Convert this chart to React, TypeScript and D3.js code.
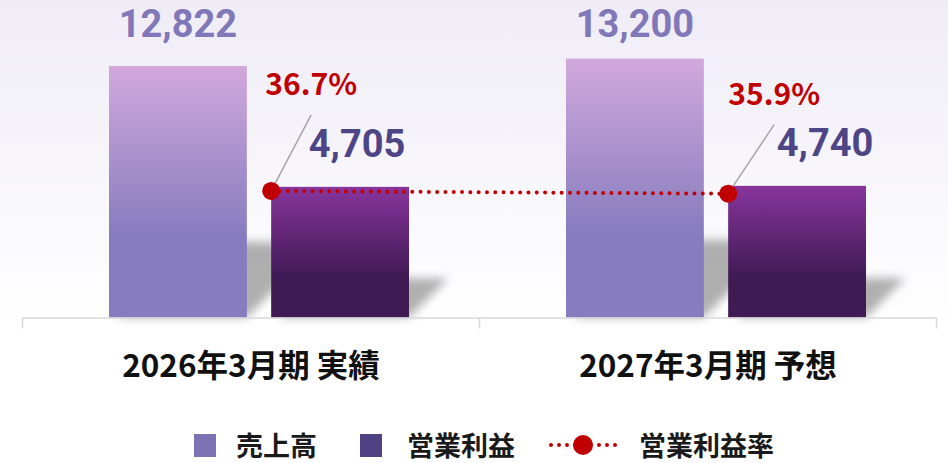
import React, { useRef, useEffect } from 'react';
import * as d3 from 'd3';

// chart values
const categories = ['2026年3月期 実績', '2027年3月期 予想'];
const sales = [12822, 13200];
const profit = [4705, 4740];
const margin = [36.7, 35.9];
const seriesNames = ['売上高', '営業利益', '営業利益率'];

const W = 948;
const H = 463;
const FONT = '"Noto Sans CJK JP", "Noto Sans", sans-serif';
const NUM_FONT = 'Roboto, "Noto Sans", sans-serif';

const App = () => {
    const svgRef = useRef<SVGSVGElement>(null);

    useEffect(() => {
        const root = d3.select(svgRef.current);
        root.selectAll('*').remove();

        const base = 317.5;
        const top = 3.7;

        const x0 = d3.scaleBand().domain(categories).range([22.5, 936.5]).padding(0);
        const x1 = d3.scaleBand().domain(['sales', 'profit']).range([86.5, 386.5]).paddingInner(0.15);
        const ySales = d3.scaleLinear().domain([0, 16000]).range([base, top]);
        const yProfit = d3.scaleLinear().domain([0, 11300]).range([base, top]);
        const yRate = d3.scaleLinear().domain([0, 91]).range([base, top]);

        const defs = root.append('defs');

        const bg = defs.append('linearGradient').attr('id', 'bg').attr('x1', 0).attr('y1', 0).attr('x2', 0).attr('y2', 1);
        bg.append('stop').attr('offset', 0).attr('stop-color', '#efecf6');
        bg.append('stop').attr('offset', 0.72).attr('stop-color', '#ffffff');

        const gSales = defs.append('linearGradient').attr('id', 'gSales').attr('x1', 0).attr('y1', 0).attr('x2', 0).attr('y2', 1);
        gSales.append('stop').attr('offset', 0).attr('stop-color', '#d2a8dc');
        gSales.append('stop').attr('offset', 0.68).attr('stop-color', '#867cbf');
        gSales.append('stop').attr('offset', 1).attr('stop-color', '#867cbf');

        const gProfit = defs.append('linearGradient').attr('id', 'gProfit').attr('x1', 0).attr('y1', 0).attr('x2', 0).attr('y2', 1);
        gProfit.append('stop').attr('offset', 0).attr('stop-color', '#88359c');
        gProfit.append('stop').attr('offset', 0.7).attr('stop-color', '#3f1a53');
        gProfit.append('stop').attr('offset', 1).attr('stop-color', '#3f1a53');

        defs.append('filter').attr('id', 'blur').attr('x', -0.5).attr('y', -0.5).attr('width', 2).attr('height', 2)
            .append('feGaussianBlur').attr('stdDeviation', 5);

        root.append('rect').attr('width', W).attr('height', H).attr('fill', 'url(#bg)');

        // bar rows
        const bars = categories.flatMap((c, i) => [
            { c, key: 'sales', v: sales[i], y: ySales(sales[i]), fill: 'url(#gSales)' },
            { c, key: 'profit', v: profit[i], y: yProfit(profit[i]), fill: 'url(#gProfit)' },
        ]);

        // perspective shadows
        root.append('g').selectAll('polygon')
            .data(bars)
            .enter()
            .append('polygon')
            .attr('points', d => {
                const xa = x0(d.c)! + x1(d.key)! + 8;
                const xb = x0(d.c)! + x1(d.key)! + x1.bandwidth();
                const hs = (base - d.y) * 0.3;
                const s = hs * 1.0;
                return [[xa, base], [xb, base], [xb + s, base - hs], [xa + s, base - hs]].map(p => p.join(',')).join(' ');
            })
            .attr('fill', '#000')
            .attr('opacity', 0.3)
            .attr('filter', 'url(#blur)');

        root.append('g').selectAll('rect')
            .data(bars)
            .enter()
            .append('rect')
            .attr('x', d => x0(d.c)! + x1(d.key)!)
            .attr('y', d => d.y)
            .attr('width', x1.bandwidth())
            .attr('height', d => base - d.y)
            .attr('fill', d => d.fill);

        // axis
        const axis = root.append('g').attr('stroke', '#d9d9d9').attr('stroke-width', 1.5);
        axis.append('line').attr('x1', x0.range()[0]).attr('x2', x0.range()[1]).attr('y1', base + 0.5).attr('y2', base + 0.5);
        const edges = [x0.range()[0], ...categories.map(c => x0(c)! + x0.bandwidth())];
        axis.selectAll('.tick').data(edges).enter().append('line')
            .attr('x1', d => d).attr('x2', d => d).attr('y1', base).attr('y2', base + 11);

        root.append('g').selectAll('text')
            .data(categories)
            .enter()
            .append('text')
            .attr('x', d => x0(d)! + x0.bandwidth() / 2)
            .attr('y', 377)
            .attr('text-anchor', 'middle')
            .attr('font-family', FONT)
            .attr('font-weight', 700)
            .attr('font-size', 31.5)
            .attr('fill', '#111')
            .text(d => d);

        // value labels
        const salesTop = ySales(d3.max(sales)!) - 22;
        root.append('g').selectAll('text')
            .data(sales)
            .enter()
            .append('text')
            .attr('x', (d, i) => x0(categories[i])! + x1('sales')! + x1.bandwidth() / 2)
            .attr('y', salesTop)
            .attr('text-anchor', 'middle')
            .attr('font-family', NUM_FONT)
            .attr('font-weight', 700)
            .attr('font-size', 38)
            .attr('fill', '#8078b8')
            .text(d => d3.format(',')(d));

        const profitShift = [17, 28];
        root.append('g').selectAll('text')
            .data(profit)
            .enter()
            .append('text')
            .attr('x', (d, i) => x0(categories[i])! + x1('profit')! + x1.bandwidth() / 2 + profitShift[i])
            .attr('y', d => yProfit(d) - 30)
            .attr('text-anchor', 'middle')
            .attr('font-family', NUM_FONT)
            .attr('font-weight', 700)
            .attr('font-size', 38)
            .attr('fill', '#4e4587')
            .text(d => d3.format(',')(d));

        // margin line
        const pts = margin.map((m, i) => [x0(categories[i])! + x1('profit')!, yRate(m)] as [number, number]);
        root.append('path')
            .attr('d', d3.line()(pts))
            .attr('fill', 'none')
            .attr('stroke', '#c00000')
            .attr('stroke-width', 4)
            .attr('stroke-linecap', 'round')
            .attr('stroke-dasharray', '0 8.3');

        const leader = [[40, -76], [46, -69]];
        root.append('g').selectAll('line')
            .data(pts)
            .enter()
            .append('line')
            .attr('x1', d => d[0]).attr('y1', d => d[1])
            .attr('x2', (d, i) => d[0] + leader[i][0]).attr('y2', (d, i) => d[1] + leader[i][1])
            .attr('stroke', '#a6a6a6')
            .attr('stroke-width', 1.5);

        root.append('g').selectAll('circle')
            .data(pts)
            .enter()
            .append('circle')
            .attr('cx', d => d[0]).attr('cy', d => d[1]).attr('r', 9)
            .attr('fill', '#c00000');

        root.append('g').selectAll('text')
            .data(margin)
            .enter()
            .append('text')
            .attr('x', (d, i) => pts[i][0] + leader[i][0])
            .attr('y', (d, i) => pts[i][1] + leader[i][1] - 20)
            .attr('text-anchor', 'middle')
            .attr('font-family', FONT)
            .attr('font-weight', 700)
            .attr('font-size', 30)
            .attr('fill', '#c00000')
            .text(d => d.toFixed(1) + '%');

        // legend
        const lg = root.append('g').attr('font-family', FONT).attr('font-weight', 700).attr('font-size', 27).attr('fill', '#1a1a1a');
        const sw = [{ x: 194, c: '#7d72b3' }, { x: 360, c: '#4e4282' }];
        sw.forEach(s => lg.append('rect').attr('x', s.x).attr('y', 434).attr('width', 22).attr('height', 23).attr('fill', s.c));
        lg.append('line').attr('x1', 551).attr('x2', 617).attr('y1', 445).attr('y2', 445)
            .attr('stroke', '#c00000').attr('stroke-width', 4).attr('stroke-linecap', 'round').attr('stroke-dasharray', '0 8');
        lg.append('circle').attr('cx', 583).attr('cy', 445).attr('r', 10).attr('fill', '#c00000');
        const tx = [236, 407, 639];
        seriesNames.forEach((n, i) => lg.append('text').attr('x', tx[i]).attr('y', 456).text(n));
    }, []);

    return <svg ref={svgRef} width={W} height={H} style={{ position: 'absolute', left: 0, top: 0, display: 'block' }}></svg>;
};

export default App;
